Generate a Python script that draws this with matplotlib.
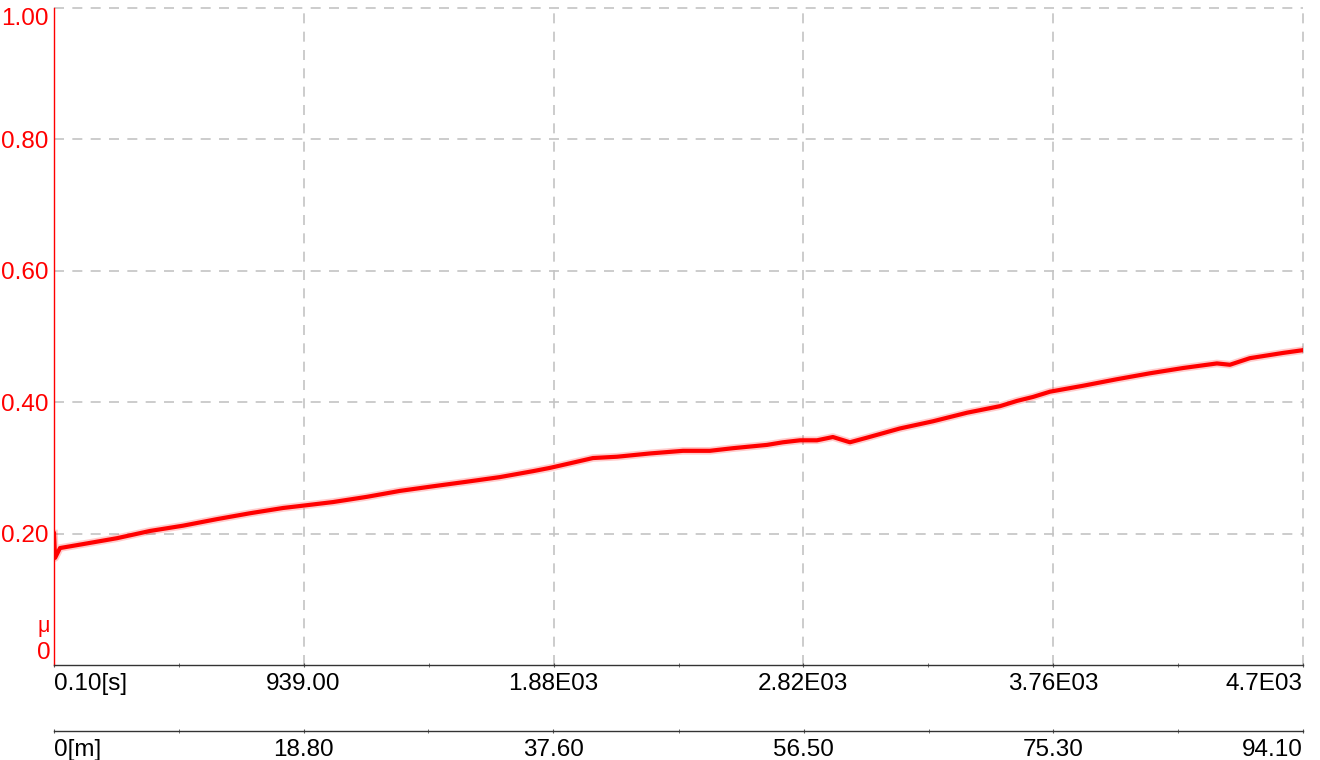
import numpy as np
import matplotlib
matplotlib.use("Agg")
import matplotlib.pyplot as plt

plt.rcParams["font.family"] = ["Liberation Sans", "DejaVu Sans"]

# friction coefficient trace vs. time (s)
time_s = [0.1, 4, 22.6, 109, 237, 361, 485, 613, 738, 862, 926, 1050, 1178,
          1302, 1426, 1554, 1678, 1802, 1866, 1942, 2028, 2119, 2243, 2367,
          2468, 2555, 2683, 2743, 2807, 2871, 2931, 2995, 3059, 3183, 3308,
          3436, 3560, 3624, 3684, 3748, 3872, 4000, 4124, 4248, 4376, 4425,
          4500, 4625, 4696]
mu = [0.200, 0.163, 0.178, 0.184, 0.193, 0.204, 0.212, 0.222, 0.231, 0.239,
      0.242, 0.248, 0.256, 0.265, 0.272, 0.279, 0.286, 0.295, 0.300, 0.307,
      0.315, 0.317, 0.322, 0.326, 0.326, 0.330, 0.335, 0.339, 0.342, 0.342,
      0.347, 0.339, 0.346, 0.360, 0.371, 0.384, 0.394, 0.402, 0.408, 0.416,
      0.425, 0.435, 0.444, 0.452, 0.459, 0.457, 0.467, 0.475, 0.479]

t_ticks = [0.1, 939, 1880, 2820, 3760, 4700]
t_labels = ["0.10[s]", "939.00", "1.88E03", "2.82E03", "3.76E03", "4.7E03"]
m_ticks = [0, 18.8, 37.6, 56.5, 75.3, 94.1]
m_labels = ["0[m]", "18.80", "37.60", "56.50", "75.30", "94.10"]
y_ticks = [0.2, 0.4, 0.6, 0.8, 1.0]
y_labels = ["0.20", "0.40", "0.60", "0.80", "1.00"]

T_MAX = 4700.0
M_MAX = 94.1
FS = 17.5
RED = "#ff0000"
GRID = "#c4c4c4"

fig = plt.figure(figsize=(13.2, 7.6), dpi=100)
ax = fig.add_axes([54 / 1320, 1 - 665 / 760, 1249 / 1320, 657 / 760])

ax.plot(time_s, mu, color=RED, lw=5.5, alpha=0.2, solid_joinstyle="round")
ax.plot(time_s, mu, color=RED, lw=3.0, solid_joinstyle="round")

ax.set_xlim(0, T_MAX)
ax.set_ylim(0, 1.0)

for s in ("top", "right"):
    ax.spines[s].set_visible(False)
ax.spines["left"].set_color(RED)
ax.spines["left"].set_linewidth(1.0)
ax.spines["bottom"].set_color("#333333")
ax.spines["bottom"].set_linewidth(1.0)

# dashed grid, including the top and right edges
for t in t_ticks[1:]:
    ax.axvline(t, color=GRID, lw=1.2, ls=(0, (6, 5)), zorder=0, clip_on=False)
for y in y_ticks:
    ax.axhline(y, color=GRID, lw=1.2, ls=(0, (6, 5)), zorder=0, clip_on=False)

ax.set_yticks(y_ticks)
ax.set_yticklabels(y_labels)
ax.tick_params(axis="y", length=0, pad=4, labelsize=FS, labelcolor=RED)
ax.get_yticklabels()[-1].set_va("top")
ax.text(-0.003, 0.058, "\u03bc", transform=ax.transAxes, ha="right",
        va="center", color=RED, fontsize=FS - 2)
ax.text(-0.003, 0.018, "0", transform=ax.transAxes, ha="right",
        va="center", color=RED, fontsize=FS)

ax.set_xticks(t_ticks)
ax.set_xticklabels(t_labels)
ax.set_xticks([(a + b) / 2 for a, b in zip(t_ticks[:-1], t_ticks[1:])],
              minor=True)
ax.tick_params(axis="x", which="both", length=3, direction="inout",
               color="#555555", pad=4, labelsize=FS, labelcolor="black")
xl = ax.get_xticklabels()
xl[0].set_ha("left")
xl[-1].set_ha("right")

# distance axis below the time axis
sec = ax.secondary_xaxis(-(731 - 665) / 657,
                         functions=(lambda t: np.asarray(t) * M_MAX / T_MAX,
                                    lambda m: np.asarray(m) * T_MAX / M_MAX))
sec.spines["bottom"].set_color("#333333")
sec.spines["bottom"].set_linewidth(1.0)
sec.set_xticks(m_ticks)
sec.set_xticklabels(m_labels)
sec.set_xticks([(a + b) / 2 for a, b in zip(m_ticks[:-1], m_ticks[1:])],
               minor=True)
sec.tick_params(axis="x", which="both", length=3, direction="inout",
                color="#555555", pad=4, labelsize=FS, labelcolor="black")
sl = sec.get_xticklabels()
sl[0].set_ha("left")
sl[-1].set_ha("right")

fig.savefig("out.png", dpi=100)
plt.close(fig)
